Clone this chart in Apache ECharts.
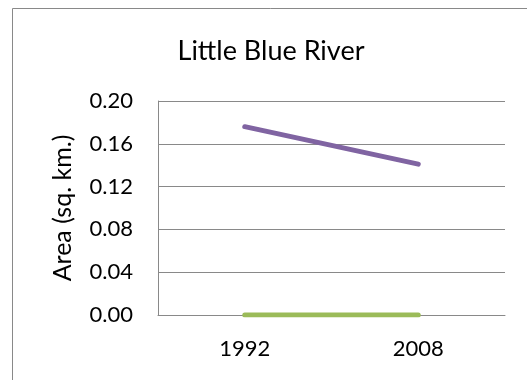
<!DOCTYPE html>
<html>
<head>
<meta charset="utf-8">
<title>Little Blue River</title>
<script src="https://cdn.jsdelivr.net/npm/echarts@6/dist/echarts.min.js"></script>
<style>
  html, body { margin: 0; padding: 0; background: #ffffff; }
  #chart { width: 527px; height: 380px; }
</style>
</head>
<body>
<div id="chart"></div>
<script>
// Survey years and area values (sq. km.)
const years = ['1992', '2008'];
const purpleSeries = [0.176, 0.141];
const greenSeries = [0, 0];
const yTicks = { min: 0, max: 0.2, interval: 0.04 };

const gray = '#898989';
const font = 'Lato, "Open Sans", sans-serif';

const chart = echarts.init(document.getElementById('chart'), null, { renderer: 'canvas' });

chart.setOption({
  backgroundColor: '#ffffff',
  animation: false,
  title: {
    text: 'Little Blue River',
    left: 266,
    top: 33,
    textAlign: 'center',
    textStyle: { fontFamily: font, fontSize: 27, fontWeight: 'normal', color: '#000000' }
  },
  graphic: [{
    type: 'rect',
    shape: { x: 12.5, y: 8.5, width: 700, height: 500 },
    style: { fill: 'none', stroke: gray, lineWidth: 1 },
    silent: true,
    z: -10
  }],
  grid: { left: 158, right: 22, top: 101, bottom: 65, containLabel: false },
  xAxis: {
    type: 'category',
    data: years,
    boundaryGap: true,
    axisLine: { show: true, lineStyle: { color: gray, width: 1 } },
    axisTick: { show: false },
    axisLabel: { color: '#000000', fontFamily: font, fontSize: 22, margin: 23 },
    splitLine: { show: false }
  },
  yAxis: {
    type: 'value',
    min: yTicks.min,
    max: yTicks.max,
    interval: yTicks.interval,
    name: 'Area (sq. km.)',
    nameLocation: 'middle',
    nameGap: 83,
    nameRotate: 90,
    nameTextStyle: { color: '#000000', fontFamily: font, fontSize: 25 },
    axisLine: { show: true, lineStyle: { color: gray, width: 1 } },
    axisTick: { show: false },
    axisLabel: {
      color: '#000000', fontFamily: font, fontSize: 22, margin: 25,
      formatter: v => v.toFixed(2)
    },
    splitLine: { show: true, lineStyle: { color: gray, width: 1 } }
  },
  series: [
    {
      name: 'Series A',
      type: 'line',
      data: purpleSeries,
      symbol: 'none',
      lineStyle: { color: '#8064A2', width: 5, cap: 'round' },
      z: 3
    },
    {
      name: 'Series B',
      type: 'line',
      data: greenSeries,
      symbol: 'none',
      lineStyle: { color: '#9BBB59', width: 5, cap: 'round' },
      z: 4
    }
  ]
});
</script>
</body>
</html>
